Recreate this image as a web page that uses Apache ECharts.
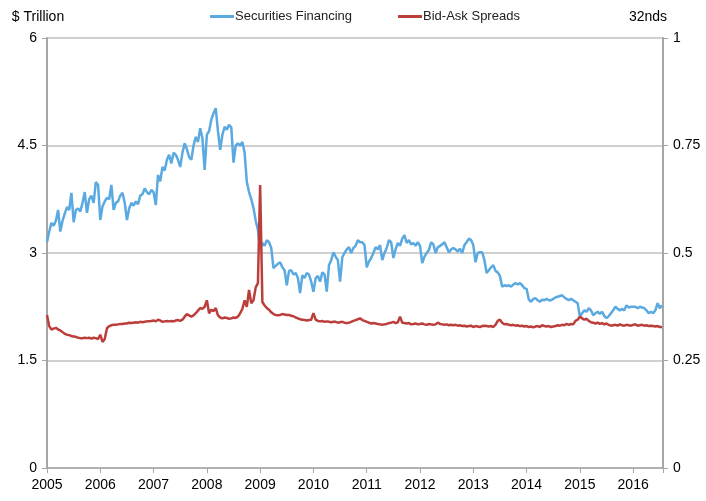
<!DOCTYPE html>
<html>
<head>
<meta charset="utf-8">
<script src="https://cdn.jsdelivr.net/npm/echarts@6/dist/echarts.min.js"></script>
<style>
  html, body { margin: 0; padding: 0; background: #fff; }
  #chart { width: 706px; height: 501px; }
</style>
</head>
<body>
<div id="chart"></div>
<script>
// semi-monthly readings (1st and 15th of each month), Jan 2005 - Jul 2016
const startYear = 2005;
const stepsPerYear = 24;
const endYear = 2016.56;

// $ trillion, left axis
const financing = [
  3.15,3.3,3.42,3.38,3.45,3.6,3.3,3.45,3.55,3.64,3.6,3.84,3.43,3.6,3.62,3.58,3.7,3.85,3.56,3.75,3.8,3.7,3.99,3.95,
  3.46,3.65,3.72,3.77,3.75,3.95,3.6,3.7,3.72,3.8,3.84,3.7,3.46,3.62,3.7,3.66,3.72,3.68,3.8,3.82,3.9,3.85,3.82,3.88,
  3.85,3.67,4.09,4.0,4.2,4.15,4.3,4.37,4.25,4.4,4.37,4.3,4.2,4.4,4.53,4.45,4.34,4.3,4.5,4.62,4.55,4.74,4.6,4.16,
  4.65,4.7,4.86,4.95,5.02,4.7,4.44,4.65,4.76,4.72,4.79,4.75,4.26,4.5,4.53,4.5,4.55,4.4,3.99,3.85,3.75,3.63,3.45,3.32,
  3.05,3.14,3.1,3.18,3.15,3.07,2.79,2.82,2.85,2.87,2.8,2.76,2.55,2.75,2.76,2.7,2.72,2.65,2.44,2.69,2.65,2.72,2.7,2.6,
  2.46,2.65,2.68,2.6,2.73,2.7,2.46,2.83,2.9,3.01,2.95,2.9,2.6,2.94,3.0,3.05,3.08,3.0,3.07,3.1,3.18,3.15,3.15,3.11,
  2.8,2.88,2.93,3.0,3.08,3.05,3.11,2.9,3.0,3.07,3.18,3.15,2.93,3.05,3.14,3.1,3.2,3.25,3.14,3.18,3.12,3.14,3.1,3.15,
  3.1,2.86,2.95,3.0,3.04,3.15,3.12,3.0,3.08,3.1,3.12,3.15,3.08,3.01,3.05,3.07,3.05,3.02,3.06,3.0,3.11,3.15,3.2,3.18,
  3.11,2.87,3.0,3.01,3.01,2.9,2.72,2.76,2.8,2.83,2.75,2.73,2.68,2.53,2.55,2.54,2.55,2.53,2.56,2.58,2.56,2.58,2.55,2.51,
  2.5,2.35,2.32,2.36,2.37,2.34,2.32,2.35,2.34,2.36,2.34,2.34,2.36,2.38,2.39,2.4,2.41,2.38,2.36,2.34,2.36,2.34,2.32,2.3,
  2.11,2.16,2.2,2.18,2.23,2.2,2.13,2.16,2.18,2.15,2.18,2.12,2.09,2.12,2.16,2.2,2.25,2.22,2.2,2.22,2.2,2.27,2.24,2.25,
  2.25,2.25,2.23,2.25,2.24,2.23,2.2,2.16,2.18,2.16,2.2,2.3,2.23,2.27
];

// 32nds, right axis
const spreads = [
  0.356,0.33,0.322,0.324,0.326,0.322,0.32,0.316,0.312,0.31,0.309,0.307,0.306,0.305,0.303,0.302,0.302,0.303,0.302,0.303,0.301,0.303,0.302,0.30,
  0.31,0.293,0.30,0.325,0.33,0.332,0.333,0.333,0.334,0.335,0.335,0.336,0.336,0.338,0.337,0.338,0.339,0.338,0.34,0.339,0.34,0.341,0.341,0.342,
  0.343,0.341,0.345,0.343,0.34,0.341,0.342,0.341,0.342,0.341,0.343,0.344,0.342,0.345,0.352,0.358,0.355,0.352,0.355,0.36,0.366,0.372,0.37,0.375,
  0.39,0.36,0.368,0.365,0.372,0.355,0.35,0.348,0.35,0.349,0.347,0.348,0.35,0.349,0.352,0.36,0.37,0.39,0.375,0.414,0.383,0.39,0.42,0.43,
  0.658,0.386,0.378,0.372,0.368,0.362,0.358,0.356,0.355,0.356,0.358,0.357,0.356,0.356,0.354,0.353,0.35,0.348,0.346,0.345,0.344,0.343,0.344,0.345,
  0.36,0.345,0.342,0.341,0.342,0.34,0.341,0.34,0.339,0.34,0.34,0.338,0.339,0.34,0.338,0.337,0.338,0.34,0.342,0.344,0.346,0.348,0.344,0.342,
  0.34,0.338,0.336,0.337,0.336,0.335,0.334,0.333,0.334,0.335,0.337,0.338,0.34,0.337,0.339,0.352,0.338,0.337,0.336,0.337,0.334,0.335,0.336,0.334,
  0.335,0.336,0.334,0.333,0.335,0.334,0.333,0.334,0.338,0.335,0.334,0.333,0.334,0.332,0.333,0.332,0.333,0.331,0.332,0.33,0.331,0.329,0.33,0.331,
  0.328,0.33,0.329,0.328,0.33,0.331,0.33,0.329,0.33,0.328,0.333,0.342,0.345,0.338,0.334,0.335,0.333,0.332,0.333,0.331,0.332,0.33,0.331,0.329,
  0.33,0.328,0.329,0.327,0.329,0.33,0.328,0.332,0.33,0.329,0.33,0.328,0.329,0.33,0.332,0.331,0.333,0.332,0.335,0.333,0.335,0.334,0.342,0.345,
  0.352,0.348,0.345,0.347,0.342,0.339,0.338,0.336,0.338,0.335,0.337,0.334,0.336,0.333,0.331,0.332,0.333,0.331,0.334,0.332,0.331,0.333,0.332,0.331,
  0.333,0.334,0.331,0.332,0.333,0.331,0.332,0.33,0.331,0.33,0.329,0.33,0.328,0.328
];

const leftTicks = [0, 1.5, 3, 4.5, 6];
const rightTicks = [0, 0.25, 0.5, 0.75, 1];

const font = "'Liberation Sans', sans-serif";
const axisGray = "#a6a6a6";
const gridGray = "#c0c0c0";

const toPairs = (arr) => arr.map((v, i) => [startYear + i / stepsPerYear, v]);

const myChart = echarts.init(document.getElementById("chart"));
myChart.setOption({
  animation: false,
  textStyle: { fontFamily: font },
  legend: {
    top: 5,
    left: 205,
    itemGap: 46,
    itemWidth: 24,
    itemHeight: 3,
    icon: "rect",
    textStyle: { fontFamily: font, fontSize: 13, color: "#222", padding: [0, 0, 0, -4] },
    data: ["Securities Financing", "Bid-Ask Spreads"],
  },
  grid: { left: 47, right: 43, top: 38, bottom: 33, containLabel: false },
  xAxis: {
    type: "value",
    min: startYear,
    max: endYear,
    interval: 1,
    axisLine: { show: true, lineStyle: { color: axisGray, width: 1.5 } },
    axisTick: { show: true, length: 5, lineStyle: { color: axisGray } },
    splitLine: { show: false },
    axisLabel: {
      color: "#000",
      fontSize: 14,
      margin: 10,
      fontFamily: font,
      formatter: (v) => (Number.isInteger(v) ? String(v) : ""),
    },
  },
  yAxis: [
    {
      type: "value",
      min: leftTicks[0],
      max: leftTicks[leftTicks.length - 1],
      interval: leftTicks[1] - leftTicks[0],
      name: "$ Trillion",
      nameLocation: "end",
      nameGap: 14,
      nameTextStyle: { color: "#000", fontSize: 14, fontFamily: font, padding: [0, 0, 0, -18] },
      axisLine: { show: true, lineStyle: { color: axisGray, width: 2 } },
      axisTick: { show: true, length: 5, lineStyle: { color: axisGray } },
      splitLine: { show: true, lineStyle: { color: gridGray, width: 1.5 } },
      axisLabel: { color: "#000", fontSize: 14, margin: 10, fontFamily: font },
    },
    {
      type: "value",
      position: "right",
      min: rightTicks[0],
      max: rightTicks[rightTicks.length - 1],
      interval: rightTicks[1] - rightTicks[0],
      name: "32nds",
      nameLocation: "end",
      nameGap: 14,
      nameTextStyle: { color: "#000", fontSize: 14, fontFamily: font, padding: [0, 0, 0, -30] },
      axisLine: { show: true, lineStyle: { color: axisGray, width: 2 } },
      axisTick: { show: true, length: 5, lineStyle: { color: axisGray } },
      splitLine: { show: false },
      axisLabel: { color: "#000", fontSize: 14, margin: 10, fontFamily: font },
    },
  ],
  series: [
    {
      name: "Securities Financing",
      type: "line",
      yAxisIndex: 0,
      symbol: "none",
      data: toPairs(financing),
      lineStyle: { color: "#5aa9e0", width: 2.5 },
      itemStyle: { color: "#5aa9e0" },
    },
    {
      name: "Bid-Ask Spreads",
      type: "line",
      yAxisIndex: 1,
      symbol: "none",
      data: toPairs(spreads),
      lineStyle: { color: "#bb3e3b", width: 2.5 },
      itemStyle: { color: "#bb3e3b" },
    },
  ],
});
</script>
</body>
</html>
